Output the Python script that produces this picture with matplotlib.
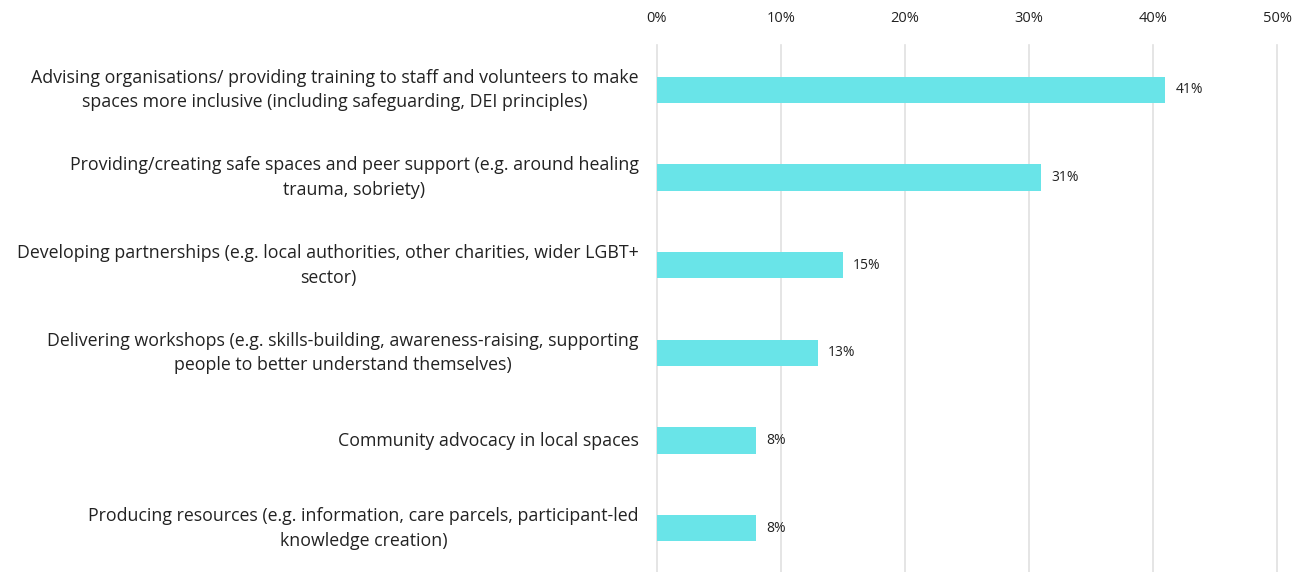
import matplotlib.pyplot as plt

# DATA #######################################################################

categories = [
    'Advising organisations/ providing training to staff and volunteers to make\n'
    'spaces more inclusive (including safeguarding, DEI principles)',
    'Providing/creating safe spaces and peer support (e.g. around healing\n'
    'trauma, sobriety)',
    'Developing partnerships (e.g. local authorities, other charities, wider LGBT+\n'
    'sector)',
    'Delivering workshops (e.g. skills-building, awareness-raising, supporting\n'
    'people to better understand themselves)',
    'Community advocacy in local spaces',
    'Producing resources (e.g. information, care parcels, participant-led\n'
    'knowledge creation)',
]
shares = [41, 31, 15, 13, 8, 8]
ticks = [0, 10, 20, 30, 40, 50]
tick_labels = ['0%', '10%', '20%', '30%', '40%', '50%']

BAR_COLOR = '#69e4e8'
TEXT_COLOR = '#222222'
GRID_COLOR = '#e0e0e0'

plt.rcParams['font.family'] = ['Open Sans', 'DejaVu Sans']

# PLOT #######################################################################

fig = plt.figure(figsize=(13.04, 5.72), dpi=100)
ax = fig.add_axes([0.5038, 0.0, 0.9793 - 0.5038, 0.921])

pos = list(range(len(categories)))
ax.barh(pos, shares, height=0.30, color=BAR_COLOR, zorder=2)

for y, v in zip(pos, shares):
    ax.text(v + 0.8, y, f'{v}%', va='center', ha='left',
            fontsize=10, color=TEXT_COLOR)

ax.set_xlim(0, 50)
ax.set_ylim(5.5, -0.51)
ax.set_xticks(ticks)
ax.set_xticklabels(tick_labels)
ax.xaxis.tick_top()
ax.tick_params(axis='x', length=0, pad=14, labelsize=10.5, labelcolor=TEXT_COLOR)
ax.grid(axis='x', color=GRID_COLOR, linewidth=1.2, zorder=0)
for gl in ax.xaxis.get_gridlines():
    gl.set_clip_on(False)

ax.set_yticks(pos)
ax.set_yticklabels([])
ax.tick_params(axis='y', length=0)
for y, label in zip(pos, categories):
    # multi-line labels are centred on their own block, block right-aligned
    ax.annotate(label, xy=(0, y), xycoords=('axes fraction', 'data'),
                xytext=(-13, 0), textcoords='offset points',
                ha='right', va='center', multialignment='center',
                fontsize=12.8, color=TEXT_COLOR, linespacing=1.48)

for s in ax.spines.values():
    s.set_visible(False)

fig.savefig('out.png', dpi=100, facecolor='white')
